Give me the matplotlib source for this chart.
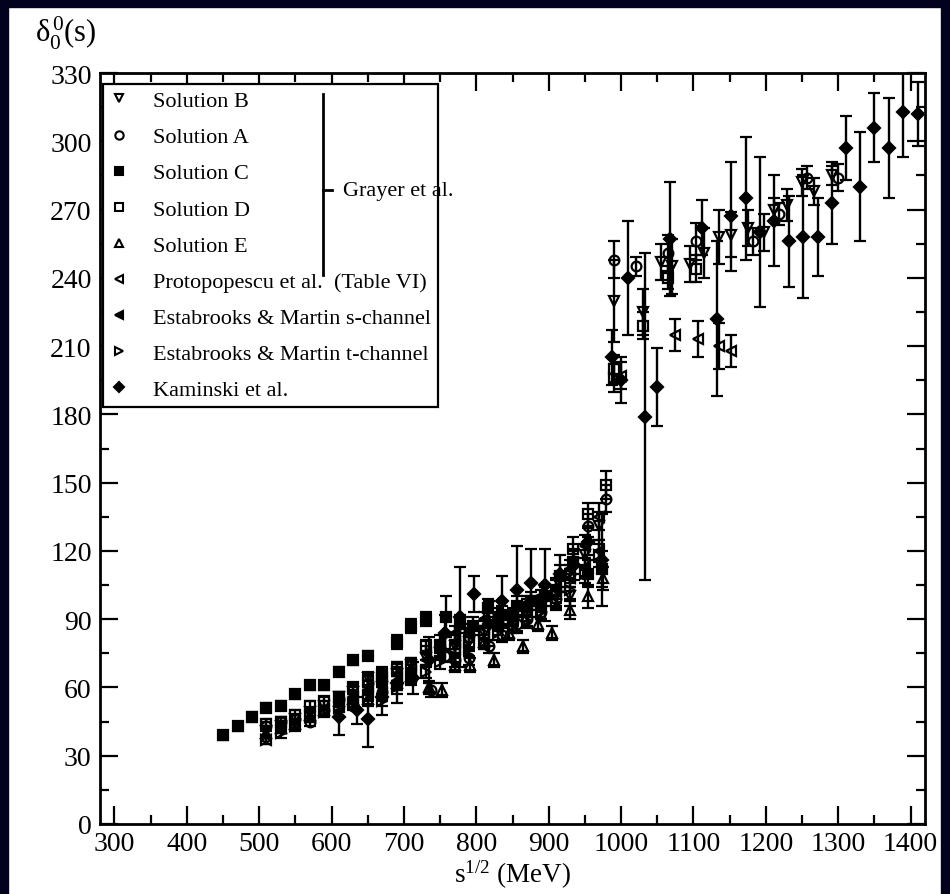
import matplotlib
matplotlib.use('Agg')
import matplotlib.pyplot as plt
from matplotlib.lines import Line2D
from matplotlib.patches import Rectangle
from matplotlib.ticker import MultipleLocator

plt.rcParams['font.family'] = ['Liberation Serif', 'DejaVu Serif']
plt.rcParams['mathtext.fontset'] = 'custom'
plt.rcParams['mathtext.rm'] = 'Liberation Serif'
plt.rcParams['mathtext.it'] = 'Liberation Serif:italic'
plt.rcParams['mathtext.default'] = 'regular'

# ---------------- data ----------------
solB_x = [510, 530, 550, 570, 590, 610, 630, 650, 670, 690, 710, 730, 750, 770, 790, 810, 830, 850, 870, 890, 910, 930, 950, 970,
          990, 1030, 1055, 1070, 1095, 1114, 1136, 1152, 1176, 1197, 1211, 1229, 1250, 1267, 1291]
solB_y = [41, 43, 46, 49, 52, 56, 58, 64, 60, 66, 70, 73, 75, 78, 80, 84, 86, 88, 92, 96, 100, 100, 118, 131,
          230, 225, 247, 245, 246, 251, 258, 259, 262, 260, 270, 272, 282, 278, 285]
solB_e = [2, 2, 2, 2, 2, 2, 3, 3, 3, 3, 3, 3, 3, 3, 3, 3, 3, 3, 3, 3, 4, 4, 5, 6,
          18, 10, 8, 12, 8, 11, 12, 10, 8, 8, 5, 7, 6, 6, 4]

solA_x = [510, 530, 550, 570, 590, 610, 630, 650, 670, 690, 710, 737, 757, 770, 790, 818, 836, 856, 870, 890, 910, 930, 955, 979,
          990, 1020, 1065, 1103, 1183, 1218, 1257, 1300]
solA_y = [43, 45, 46, 45, 50, 55, 52, 62, 58, 62, 65, 59, 74, 72, 73, 78, 83, 88, 90, 93, 99, 110, 131, 143,
          248, 245, 251, 256, 256, 268, 284, 284]
solA_e = [2, 2, 2, 2, 2, 2, 2, 3, 3, 3, 3, 3, 3, 3, 3, 3, 3, 3, 3, 3, 4, 4, 5, 6,
          8, 4, 8, 8, 6, 5, 5, 6]

solC_x = [450, 470, 490, 510, 530, 550, 570, 590, 610, 630, 650, 670, 690, 710, 730, 758, 778, 796, 816, 836, 856, 876, 895, 915,
          933, 955, 974]
solC_y = [39, 43, 47, 51, 52, 57, 61, 61, 67, 72, 74, 66, 80, 87, 90, 91, 88, 87, 95, 92, 96, 98, 100, 109,
          115, 110, 112]
solC_e = [2, 2, 2, 2, 2, 2, 2, 2, 2, 2, 2, 3, 3, 3, 3, 9, 4, 4, 4, 4, 4, 4, 4, 5,
          5, 6, 8]

solD_x = [510, 530, 550, 570, 590, 610, 630, 650, 670, 690, 710, 730, 750, 770, 790, 810, 830, 850, 870, 890, 910, 933, 955, 979,
          990, 1030, 1065, 1103]
solD_y = [44, 45, 48, 52, 54, 56, 60, 63, 64, 68, 70, 78, 78, 77, 80, 84, 88, 90, 94, 97, 101, 121, 136, 149,
          200, 219, 240, 244]
solD_e = [2, 2, 2, 2, 2, 2, 2, 3, 3, 3, 3, 3, 3, 3, 3, 3, 3, 3, 3, 3, 4, 5, 5, 6,
          6, 6, 5, 6]

solE_x = [510, 530, 550, 570, 590, 610, 630, 650, 670, 690, 710, 735, 752, 770, 791, 810, 824, 845, 865, 885, 905, 930, 955, 975]
solE_y = [40, 42, 44, 48, 50, 54, 55, 55, 58, 62, 65, 60, 59, 70, 70, 80, 72, 84, 78, 88, 84, 94, 100, 108]
solE_e = [2, 2, 2, 2, 2, 2, 2, 3, 3, 3, 3, 3, 3, 3, 3, 3, 3, 3, 3, 3, 3, 4, 5, 5]

prot_x = [510, 530, 550, 570, 590, 610, 630, 650, 670, 690, 710, 730, 750, 770, 790, 810, 830, 850, 870, 890, 910, 930, 950, 969,
          1000, 1075, 1107, 1136, 1152]
prot_y = [37, 42, 44, 47, 50, 52, 55, 57, 60, 63, 68, 72, 76, 80, 83, 86, 90, 92, 96, 100, 103, 108, 113, 135,
          197, 215, 213, 210, 208]
prot_e = [2, 2, 2, 2, 2, 2, 2, 2, 3, 3, 3, 3, 3, 3, 3, 3, 3, 3, 3, 3, 4, 4, 4, 6,
          6, 7, 8, 10, 7]

ems_x = [610, 630, 650, 670, 690, 710, 730, 750, 770, 790, 810, 830, 850, 870, 890, 910, 930, 950, 970]
ems_y = [53, 56, 60, 57, 66, 67, 75, 80, 84, 85, 90, 92, 91, 97, 96, 104, 112, 122, 120]
ems_e = [3, 3, 3, 3, 3, 3, 3, 3, 3, 3, 3, 3, 3, 3, 3, 4, 4, 5, 5]

emt_x = [510, 530, 550, 570, 590, 610, 630, 650, 670, 690, 710, 730, 750, 770, 790, 810, 830, 850, 870, 890, 910, 930, 950, 970,
         990]
emt_y = [37, 40, 43, 47, 49, 51, 53, 56, 54, 60, 64, 67, 71, 74, 77, 80, 84, 87, 89, 93, 97, 103, 110, 118,
         196]
emt_e = [2, 2, 2, 2, 2, 2, 2, 2, 2, 3, 3, 3, 3, 3, 3, 3, 3, 3, 3, 3, 3, 4, 4, 5,
         6]

kam_x = [610, 635, 650, 670, 690, 712, 735, 757, 778, 797, 817, 836, 856, 876, 895, 915, 935, 955, 974,
         988, 1000, 1010, 1033, 1050, 1067, 1112, 1133, 1152, 1173, 1192, 1212, 1232, 1251, 1272, 1291, 1311, 1330,
         1350, 1370, 1390, 1410]
kam_y = [47, 50, 46, 56, 62, 64, 72, 84, 91, 101, 88, 98, 103, 106, 105, 110, 114, 124, 116,
         205, 195, 240, 179, 192, 257, 262, 222, 267, 275, 260, 265, 256, 258, 258, 273, 297, 280,
         306, 297, 313, 312]
kam_e = [8, 6, 12, 8, 9, 7, 10, 8, 22, 8, 10, 11, 19, 15, 16, 8, 7, 6, 20,
         12, 10, 25, 72, 17, 25, 12, 34, 24, 27, 33, 20, 20, 27, 17, 18, 14, 24,
         15, 22, 20, 14]

labels = ["Solution B", "Solution A", "Solution C", "Solution D", "Solution E",
          "Protopopescu et al.  (Table VI)", "Estabrooks & Martin s-channel",
          "Estabrooks & Martin t-channel", "Kaminski et al."]
group_label = "Grayer et al."
x_ticks = [300, 400, 500, 600, 700, 800, 900, 1000, 1100, 1200, 1300, 1400]
y_ticks = [0, 30, 60, 90, 120, 150, 180, 210, 240, 270, 300, 330]

series = [
    (solB_x, solB_y, solB_e, 'v', False),
    (solA_x, solA_y, solA_e, 'o', False),
    (solC_x, solC_y, solC_e, 's', True),
    (solD_x, solD_y, solD_e, 's', False),
    (solE_x, solE_y, solE_e, '^', False),
    (prot_x, prot_y, prot_e, '<', False),
    (ems_x, ems_y, ems_e, '<', True),
    (emt_x, emt_y, emt_e, '>', False),
    (kam_x, kam_y, kam_e, 'D', True),
]

# ---------------- figure ----------------
W, H = 950, 895
fig = plt.figure(figsize=(W / 100, H / 100), dpi=100)
fig.patch.set_facecolor('white')
ax = fig.add_axes([100 / W, (H - 825) / H, 825 / W, 751 / H])

for (x, y, e, m, filled) in series:
    ms = 6 if m == 'D' else 7
    ax.errorbar(x, y, yerr=e, fmt=m, ms=ms, mfc='black' if filled else 'none',
                mec='black', mew=1.6, ecolor='black', elinewidth=1.7,
                capsize=4, capthick=1.7, zorder=3)

ax.set_xlim(280, 1420)
ax.set_ylim(0, 330)
ax.set_xticks(x_ticks)
ax.set_yticks(y_ticks)
ax.xaxis.set_minor_locator(MultipleLocator(50))
ax.yaxis.set_minor_locator(MultipleLocator(15))
ax.tick_params(which='both', direction='in', top=True, right=True, width=1.6,
               labelsize=20)
ax.tick_params(axis='x', which='both', pad=5)
ax.tick_params(axis='y', which='both', pad=6)
ax.tick_params(which='major', length=13)
ax.tick_params(which='minor', length=6.5)
for sp in ax.spines.values():
    sp.set_linewidth(2)

ax.set_xlabel(r'$s^{1/2}$ (MeV)', fontsize=19.5, labelpad=1)
fig.text(35 / W, 1 - 33 / H, r'$\delta_0^{\,0}$(s)', fontsize=22, ha='left', va='center')

handles = []
for (x, y, e, m, filled) in series:
    handles.append(Line2D([], [], ls='none', marker=m, ms=5 if m == 'D' else 6,
                          mfc='black' if filled else 'none', mec='black', mew=1.5))
leg = ax.legend(handles, labels, loc='upper left', bbox_to_anchor=(0.004, 0.9854),
                frameon=True, fancybox=False, edgecolor='black', framealpha=1,
                fontsize=16, handlelength=0.8, handletextpad=1.15,
                labelspacing=0.7, borderpad=0.3, borderaxespad=0)
leg.get_frame().set_linewidth(1.6)

# bracket for Grayer et al.
fig.canvas.draw()
r = fig.canvas.get_renderer()
texts = leg.get_texts()
ext = [t.get_window_extent(r) for t in texts]
fr = leg.get_frame().get_window_extent(r)
cy = [0.5 * (e.y0 + e.y1) for e in ext]
bx = fr.x0 + 0.657 * fr.width
by0 = cy[0] + 8
by1 = cy[4] - 0.8 * (cy[4] - cy[5])
bym = 0.5 * (by0 + by1) - 6
inv = fig.transFigure.inverted()
(fx, fy0) = inv.transform((bx, by0))
(_, fy1) = inv.transform((bx, by1))
(fx2, fym) = inv.transform((bx + 9, bym))
fig.add_artist(Line2D([fx, fx], [fy0, fy1], color='black', lw=2, transform=fig.transFigure))
fig.add_artist(Line2D([fx, fx2], [fym, fym], color='black', lw=2, transform=fig.transFigure))
fig.text(fx2 + 11 / W, fym, group_label, fontsize=16, ha='left', va='center')

# dark frame around the picture
col = '#02021c'
fig.add_artist(Rectangle((0, 1 - 8 / H), 1, 8 / H, transform=fig.transFigure, color=col, zorder=10))
fig.add_artist(Rectangle((0, 0), 8 / W, 1, transform=fig.transFigure, color=col, zorder=10))
fig.add_artist(Rectangle((1 - 9 / W, 0), 9 / W, 1, transform=fig.transFigure, color=col, zorder=10))

fig.savefig('out.png', dpi=100, facecolor='white')
